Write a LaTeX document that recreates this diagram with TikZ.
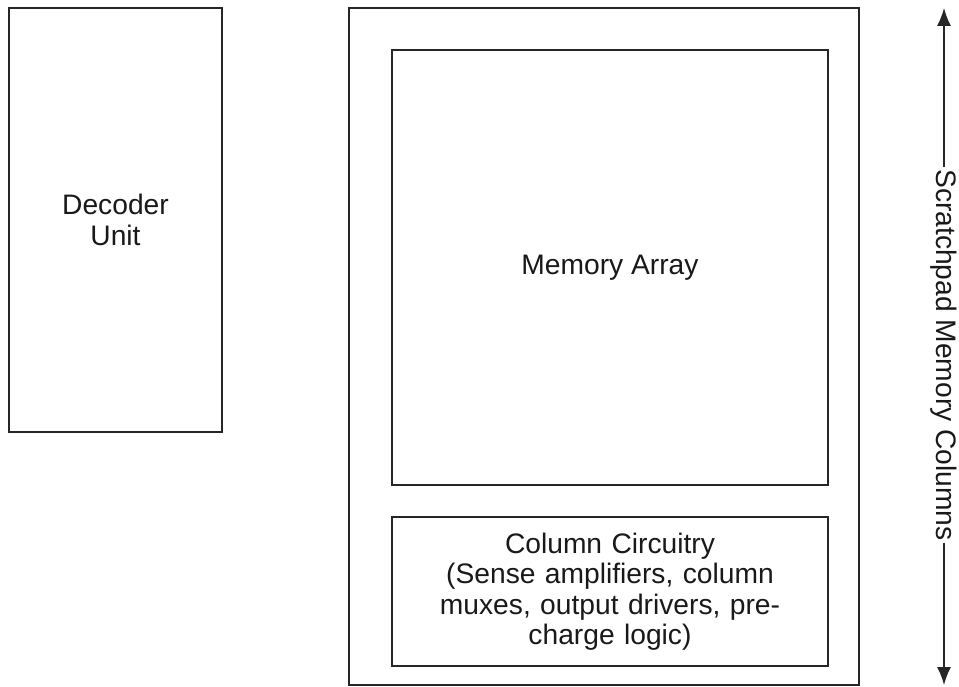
\documentclass[tikz,border=0pt]{standalone}
\usepackage{fontspec}
\setmainfont{Liberation Sans}
\usetikzlibrary{arrows.meta}
\begin{document}
\begin{tikzpicture}[x=1pt,y=-1pt,
  lbltext/.style={font=\fontsize{28.2}{30.5}\selectfont, text=black!90},
  block/.style={draw=black!85, line width=1.5pt, fill=white, inner sep=0pt,
    align=center, lbltext},
  dimline/.style={draw=black!85, line width=1.4pt, -{Latex[length=18pt,width=14pt]}}]
  \useasboundingbox (0,0) rectangle (959,687);

  % decoder on the left
  \node[block, minimum width=213pt, minimum height=424pt] (dec) at (115.5,220) {Decoder\\Unit};

  % scratchpad with memory array and column circuitry
  \node[block, minimum width=510pt, minimum height=677pt] (pad) at (604,346.5) {};
  \node[block, minimum width=436pt, minimum height=435pt] (arr) at (610,267.5) {Memory Array};
  \node[block, minimum width=436pt, minimum height=149pt, text width=420pt] (col) at (610,591.5)
    {Column Circuitry\\(Sense amplifiers, column\\muxes, output drivers, pre-\\charge logic)};

  % column dimension on the right
  \coordinate (top) at (944,8);
  \coordinate (bot) at (944,685);
  \node[rotate=-90, inner sep=2pt, lbltext] (lbl) at (944,355)
    {Scratchpad Memory Columns};
  \draw[dimline] (lbl.west) -- (top);
  \draw[dimline] (lbl.east) -- (bot);
\end{tikzpicture}
\end{document}
